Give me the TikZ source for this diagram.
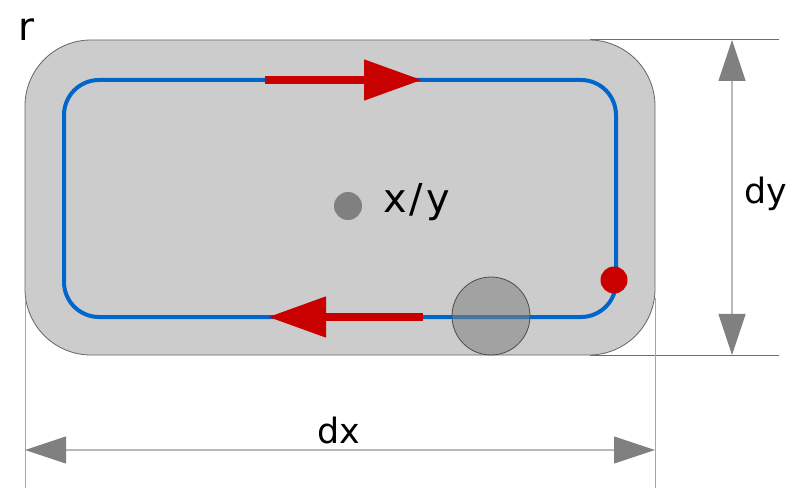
\documentclass[tikz,border=0pt]{standalone}
\usepackage{fontspec}
\setmainfont{DejaVu Sans}
\usetikzlibrary{arrows.meta}
\definecolor{boxfill}{RGB}{204,204,204}
\definecolor{boxline}{RGB}{100,100,100}
\definecolor{pathblue}{RGB}{0,102,204}
\definecolor{markred}{RGB}{200,0,0}
\definecolor{dimgray}{RGB}{128,128,128}
\definecolor{dimline}{RGB}{185,185,185}
\definecolor{extline}{RGB}{110,110,110}
\definecolor{extlight}{RGB}{165,165,165}
\tikzset{
  lbl/.style={font=\fontsize{35}{42}\selectfont, inner sep=0pt},
  biglbl/.style={font=\fontsize{40}{48}\selectfont\addfontfeatures{LetterSpace=8}, inner sep=0pt},
  rlbl/.style={font=\fontsize{39}{46}\selectfont, inner sep=0pt},
  dimarrow/.style={draw=dimline, line width=1.2bp,
    {Triangle[length=41bp,width=27bp,fill=dimgray,color=dimgray]}-{Triangle[length=41bp,width=27bp,fill=dimgray,color=dimgray]}},
  redarrow/.style={draw=markred, line width=8bp, -{Triangle[length=58bp,width=39bp]}},
}
\begin{document}
\begin{tikzpicture}[x=1bp,y=-1bp]
\useasboundingbox (0,0) rectangle (800,503);
% body
\draw[fill=boxfill, draw=boxline, line width=0.8bp, rounded corners=66bp] (25,40) rectangle (655,355);
% path
\draw[pathblue, line width=4bp, rounded corners=35bp] (64,80) rectangle (616,317);
% direction arrows
\coordinate (t1) at (265,80); \coordinate (t2) at (422,80);
\coordinate (b1) at (423,317); \coordinate (b2) at (268,317);
\draw[redarrow] (t1) -- (t2);
\draw[redarrow] (b1) -- (b2);
% centre
\fill[dimgray] (348,206) circle[radius=14bp];
\node[biglbl, anchor=base west] (xy) at (383,213) {x/y};
% start point
\fill[markred] (614,280) circle[radius=13.5bp];
% tool
\draw[fill=dimgray, fill opacity=0.55, draw=black!70, line width=0.8bp] (491,316) circle[radius=39bp];
% radius label
\node[rlbl, anchor=base west] (r) at (18,41) {r};
% extension lines
\coordinate (et1) at (590,40); \coordinate (et2) at (779,40);
\coordinate (eb1) at (590,355); \coordinate (eb2) at (779,355);
\coordinate (el1) at (25,300); \coordinate (el2) at (25,488);
\coordinate (er1) at (655,298); \coordinate (er2) at (655,488);
\draw[extline, line width=1bp] (et1) -- (et2);
\draw[extline, line width=1bp] (eb1) -- (eb2);
\draw[extlight, line width=1bp] (el1) -- (el2);
\draw[extlight, line width=1bp] (er1) -- (er2);
% dimensions
\coordinate (dy1) at (732,40); \coordinate (dy2) at (732,355);
\coordinate (dx1) at (25,450); \coordinate (dx2) at (655,450);
\draw[dimarrow] (dy1) -- (dy2);
\draw[dimarrow] (dx1) -- (dx2);
\node[lbl, anchor=base west] (dy) at (744,204) {dy};
\node[lbl, anchor=base west] (dx) at (317,443) {dx};
\end{tikzpicture}
\end{document}
